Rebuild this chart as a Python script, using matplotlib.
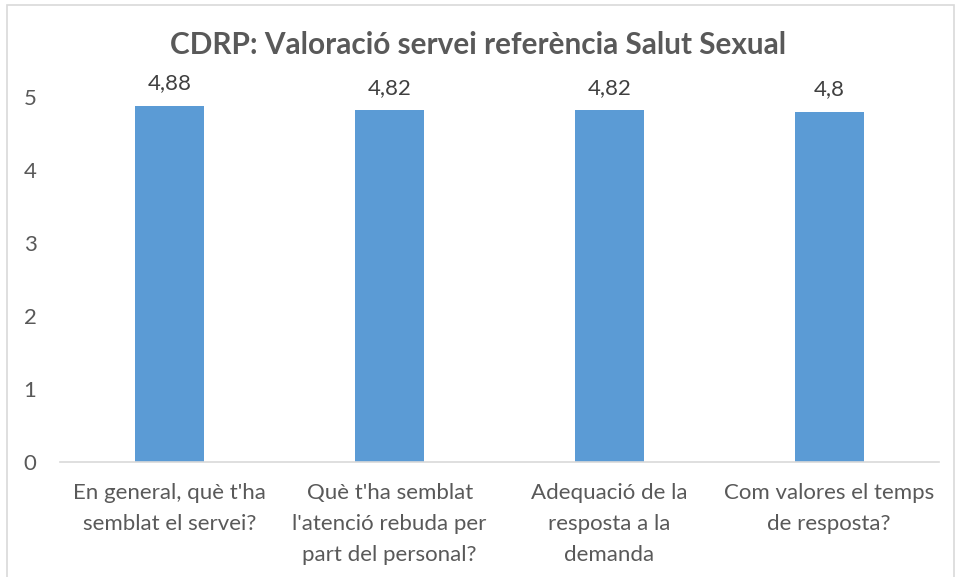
import matplotlib.pyplot as plt
from matplotlib.patches import Rectangle

categories = [
    "En general, què t'ha\nsemblat el servei?",
    "Què t'ha semblat\nl'atenció rebuda per\npart del personal?",
    "Adequació de la\nresposta a la\ndemanda",
    "Com valores el temps\nde resposta?",
]
values = [4.88, 4.82, 4.82, 4.8]
value_labels = ["4,88", "4,82", "4,82", "4,8"]
yticks = [0, 1, 2, 3, 4, 5]

grey = "#595959"
plt.rcParams["font.family"] = ["Lato", "DejaVu Sans"]

fig = plt.figure(figsize=(9.56, 5.77), dpi=100)
ax = fig.add_axes([0.0628, 0.1993, 0.9195, 0.6326])

x = range(len(values))
bars = ax.bar(x, values, width=0.314, color="#5B9BD5")
for b, lab in zip(bars, value_labels):
    ax.annotate(lab, (b.get_x() + b.get_width() / 2, b.get_height()),
                xytext=(0, 9), textcoords="offset points",
                ha="center", va="bottom", fontsize=16, color="#404040")

ax.set_xlim(-0.5, len(values) - 0.5)
ax.set_ylim(0, 5)
ax.set_yticks(yticks)
ax.set_yticklabels([str(t) for t in yticks], fontsize=16, color=grey)
ax.set_xticks(list(x))
ax.set_xticklabels(categories, fontsize=16, color=grey, linespacing=1.7)
ax.tick_params(axis="both", length=0)
ax.tick_params(axis="y", pad=17)
ax.tick_params(axis="x", pad=15)
for s in ["top", "right", "left"]:
    ax.spines[s].set_visible(False)
ax.spines["bottom"].set_color("#D9D9D9")
ax.spines["bottom"].set_linewidth(1.2)

fig.text(0.5, 0.922, "CDRP: Valoració servei referència Salut Sexual",
         ha="center", va="center", fontsize=21.4, fontweight="bold", color=grey)

fig.patches.append(Rectangle((7 / 956, -0.05), 947 / 956, 1.05 - 5 / 577,
                             transform=fig.transFigure, fill=False,
                             edgecolor="#D9D9D9", linewidth=1.2))

fig.savefig("out.png", dpi=100)
